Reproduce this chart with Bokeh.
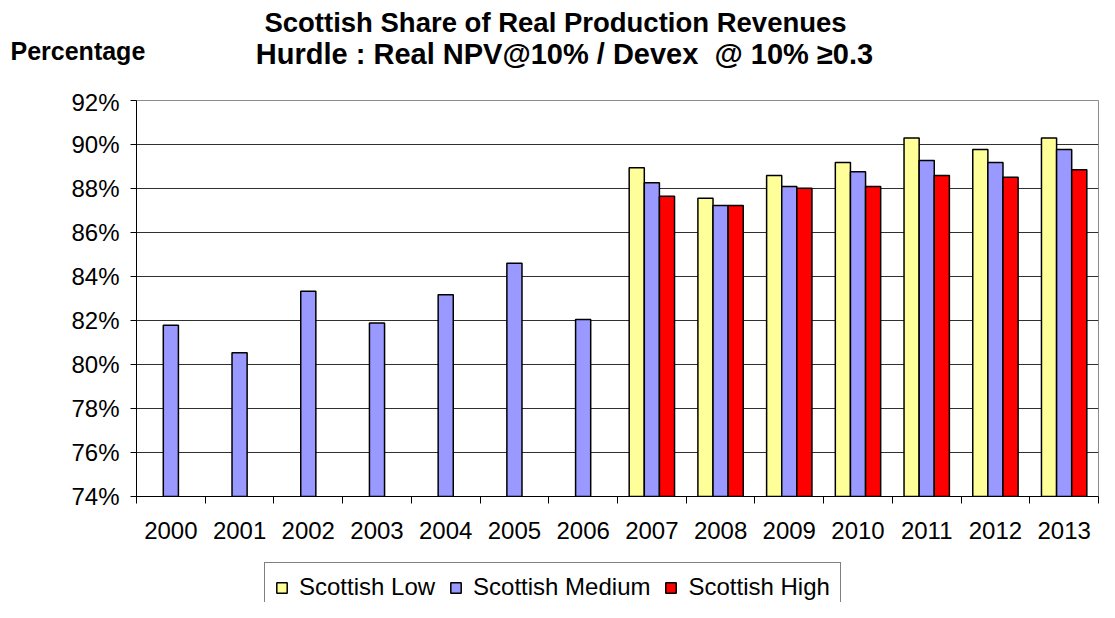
from bokeh.plotting import figure
from bokeh.layouts import column
from bokeh.models import (ColumnDataSource, FixedTicker, PrintfTickFormatter, Legend,
                          LegendItem, Label, Range1d)
from bokeh.transform import dodge
from bokeh.embed import file_html
from bokeh.resources import INLINE

NaN = float("nan")

years = ["2000", "2001", "2002", "2003", "2004", "2005", "2006",
         "2007", "2008", "2009", "2010", "2011", "2012", "2013"]
scottish_low = [NaN, NaN, NaN, NaN, NaN, NaN, NaN,
                88.94, 87.56, 88.59, 89.18, 90.29, 89.77, 90.29]
scottish_medium = [81.78, 80.53, 83.33, 81.89, 83.17, 84.60, 82.05,
                   88.26, 87.23, 88.09, 88.76, 89.27, 89.18, 89.77]
scottish_high = [NaN, NaN, NaN, NaN, NaN, NaN, NaN,
                 87.65, 87.23, 88.01, 88.09, 88.59, 88.51, 88.85]
y_ticks = [74, 76, 78, 80, 82, 84, 86, 88, 90, 92]

title_line1 = "Scottish Share of Real Production Revenues"
title_line2 = "Hurdle : Real NPV@10% / Devex\u00a0\u00a0@ 10% \u22650.3"
y_title = "Percentage"
series_names = ["Scottish Low", "Scottish Medium", "Scottish High"]
series_colors = ["#FFFF99", "#9999FF", "#FF0000"]

FONT = "Liberation Sans"
W_PX = 1099
FRAME_LEFT = 136

# ---------- title strip ----------
TOP_H = 88
top = figure(width=W_PX, height=TOP_H, output_backend="svg", toolbar_location=None,
             x_range=Range1d(0, 1), y_range=Range1d(0, 1),
             x_axis_type=None, y_axis_type=None, min_border=0)
top.outline_line_color = None
top.grid.visible = False
try:
    top.frame_align = False
    x0 = 0
except Exception:
    x0 = FRAME_LEFT

SHIFT = 9
top.add_layout(Label(x=555 - x0, y=TOP_H - 31 + SHIFT, x_units="screen", y_units="screen",
                     text=title_line1, text_align="center", text_baseline="alphabetic",
                     text_font=FONT, text_font_size="27.5px", text_font_style="bold",
                     text_color="black"))
top.add_layout(Label(x=564 - x0, y=TOP_H - 62 + SHIFT, x_units="screen", y_units="screen",
                     text=title_line2, text_align="center", text_baseline="alphabetic",
                     text_font=FONT, text_font_size="29px", text_font_style="bold",
                     text_color="black"))
top.add_layout(Label(x=10 - x0, y=TOP_H - 59 + SHIFT, x_units="screen", y_units="screen",
                     text=y_title, text_align="left", text_baseline="alphabetic",
                     text_font=FONT, text_font_size="25px", text_font_style="bold",
                     text_color="black"))

# ---------- main chart ----------
xs = list(range(len(years)))
src = ColumnDataSource(dict(x=xs, low=scottish_low, med=scottish_medium, high=scottish_high))

p = figure(width=W_PX, height=468, output_backend="svg", toolbar_location=None,
           x_range=Range1d(-0.5, len(years) - 0.5), y_range=Range1d(74, 92),
           min_border_left=FRAME_LEFT, min_border_top=12, min_border_bottom=60,
           min_border_right=1)
p.background_fill_color = "white"
p.border_fill_color = "white"
p.outline_line_color = "#8c8c8c"
p.outline_line_width = 1

W = 0.22
cols = ["low", "med", "high"]
offsets = [-W, 0.0, W]
for c, off, colr in zip(cols, offsets, series_colors):
    p.vbar(x=dodge("x", off), top=c, width=W, source=src,
           fill_color=colr, line_color="black", line_width=1.5)

p.xgrid.grid_line_color = None
p.ygrid.grid_line_color = "#303030"
p.ygrid.grid_line_width = 1
p.ygrid.ticker = FixedTicker(ticks=y_ticks[:-1])

xa = p.xaxis[0]
xa.ticker = FixedTicker(ticks=xs, minor_ticks=[i - 0.5 for i in range(len(years) + 1)])
xa.major_label_overrides = {i: y for i, y in enumerate(years)}
xa.major_tick_line_color = None
xa.minor_tick_line_color = "black"
xa.minor_tick_out = 7
xa.minor_tick_in = 0
xa.axis_line_color = "black"
xa.major_label_text_font = FONT
xa.major_label_text_font_size = "24px"
xa.major_label_text_color = "black"
xa.major_label_standoff = 18

ya = p.yaxis[0]
ya.ticker = FixedTicker(ticks=y_ticks)
ya.formatter = PrintfTickFormatter(format="%d%%")
ya.major_tick_out = 6
ya.major_tick_in = 0
ya.minor_tick_line_color = None
ya.axis_line_color = "black"
ya.major_tick_line_color = "black"
ya.major_label_text_font = FONT
ya.major_label_text_font_size = "24px"
ya.major_label_text_color = "black"
ya.major_label_standoff = 11

# ---------- legend strip ----------
LEG_H = 46
leg = figure(width=W_PX, height=LEG_H, output_backend="svg", toolbar_location=None,
             x_range=Range1d(0, 1), y_range=Range1d(0, 1),
             x_axis_type=None, y_axis_type=None, min_border=0)
leg.outline_line_color = None
leg.grid.visible = False
try:
    leg.frame_align = False
    lx0 = 0
except Exception:
    lx0 = FRAME_LEFT

# legend proxies: a single undefined (NaN) row, so nothing is drawn in the strip itself
proxy = ColumnDataSource(dict(x=[NaN], top=[NaN]))
items = []
for name, colr in zip(series_names, series_colors):
    r = leg.vbar(x="x", top="top", width=0.1, source=proxy,
                 fill_color=colr, line_color="black", line_width=1.5)
    items.append(LegendItem(label=name, renderers=[r]))
legend = Legend(items=items, orientation="horizontal", location=(264 - lx0, -10),
                glyph_width=13, glyph_height=13, label_standoff=11, spacing=14,
                padding=10, margin=0, label_height=24,
                label_text_font=FONT, label_text_font_size="24px",
                label_text_color="black",
                border_line_color="black", border_line_width=1,
                background_fill_color="white", background_fill_alpha=1)
leg.add_layout(legend, "center")

layout = column(top, p, leg, spacing=0)
open("out.html", "w").write(file_html(layout, INLINE))
